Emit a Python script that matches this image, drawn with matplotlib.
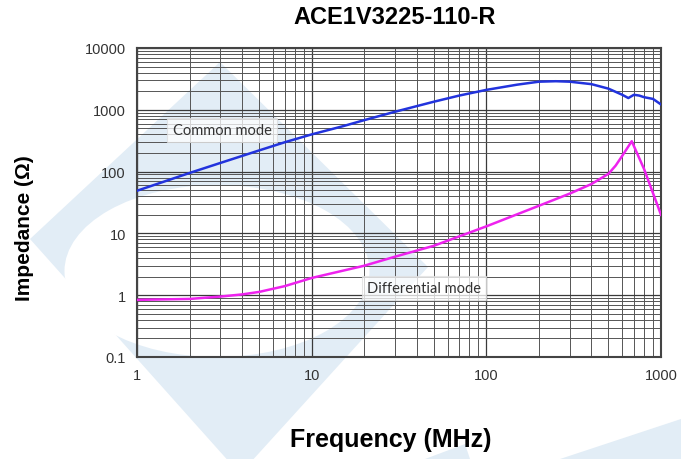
import numpy as np
import matplotlib.pyplot as plt
from matplotlib.patches import Polygon, Ellipse
from matplotlib.ticker import LogLocator, FixedLocator, FixedFormatter, NullFormatter

# Data
freq_cm = [1, 2, 3, 5, 7, 10, 15, 20, 30, 50, 70, 100, 150, 200, 250, 300,
           400, 500, 600, 650, 700, 750, 800, 900, 1000]
z_cm = [49, 95, 138, 220, 298, 400, 540, 680, 930, 1350, 1700, 2100, 2550,
        2850, 2900, 2850, 2600, 2200, 1750, 1550, 1750, 1700, 1600, 1500, 1220]

freq_dm = [1, 2, 3, 4, 5, 7, 10, 20, 30, 50, 100, 200, 300, 400, 500, 550,
           600, 650, 680, 800, 1000]
z_dm = [0.84, 0.87, 0.95, 1.03, 1.13, 1.4, 1.9, 3.0, 4.2, 6.3, 13, 28, 44,
        63, 92, 125, 180, 255, 310, 110, 20]

y_ticks = [0.1, 1, 10, 100, 1000, 10000]
y_labels = ["0.1", "1", "10", "100", "1000", "10000"]
x_ticks = [1, 10, 100, 1000]
x_labels = ["1", "10", "100", "1000"]

W, H = 681, 460
fig = plt.figure(figsize=(W / 100, H / 100), dpi=100)

# watermark shapes on a full-figure background axes (pixel coordinates)
bg = fig.add_axes([0, 0, 1, 1], zorder=-1)
bg.set_xlim(0, W)
bg.set_ylim(H, 0)
bg.axis("off")
wm = "#e2edf6"
bg.add_patch(Polygon([(220, 63), (428, 268), (240, 475), (30, 240)],
                     facecolor=wm, edgecolor="none"))
bg.add_patch(Ellipse((217, 272), 305, 172, facecolor="white",
                     edgecolor="none"))
bg.add_patch(Polygon([(560, 460), (681, 420), (681, 460)], facecolor=wm,
                     edgecolor="none"))
bg.add_patch(Polygon([(425, 460), (465, 445), (470, 460)], facecolor=wm,
                     edgecolor="none"))

ax = fig.add_axes([137 / W, 1 - 358 / H, (661 - 137) / W, (358 - 49) / H])
ax.patch.set_alpha(0)
ax.set_xscale("log")
ax.set_yscale("log")
ax.set_xlim(1, 1000)
ax.set_ylim(0.1, 10000)

ax.xaxis.set_major_locator(FixedLocator(x_ticks))
ax.xaxis.set_major_formatter(FixedFormatter(x_labels))
ax.yaxis.set_major_locator(FixedLocator(y_ticks))
ax.yaxis.set_major_formatter(FixedFormatter(y_labels))
ax.xaxis.set_minor_locator(LogLocator(base=10, subs=np.arange(2, 10)))
ax.yaxis.set_minor_locator(LogLocator(base=10, subs=np.arange(2, 10)))
ax.xaxis.set_minor_formatter(NullFormatter())
ax.yaxis.set_minor_formatter(NullFormatter())

ax.grid(True, which="major", color="#3a3a3a", linewidth=0.9)
ax.grid(True, which="minor", color="#555555", linewidth=0.7)
ax.tick_params(which="both", length=0, colors="#333333", pad=8)
for lab in ax.get_xticklabels() + ax.get_yticklabels():
    lab.set_family(["Liberation Sans", "DejaVu Sans"])
    lab.set_fontsize(10.5)
for s in ax.spines.values():
    s.set_color("#444444")
    s.set_linewidth(1.5)

ax.plot(freq_cm, z_cm, color="#2233dd", linewidth=1.8, zorder=3)
ax.plot(freq_dm, z_dm, color="#ee22ee", linewidth=1.8, zorder=3)

box = dict(boxstyle="square,pad=0.35", facecolor="white", alpha=0.75,
           edgecolor="#dddddd", linewidth=0.8)
fig.text(222 / W, 1 - 131 / H, "Common mode", ha="center", va="center",
         fontsize=10.5, color="#333333", family=["Lato", "DejaVu Sans"],
         bbox=box, zorder=5)
fig.text(424 / W, 1 - 289 / H, "Differential mode", ha="center", va="center",
         fontsize=10.5, color="#333333", family=["Lato", "DejaVu Sans"],
         bbox=box, zorder=5)

fig.text(395 / W, 1 - 18 / H, "ACE1V3225-110-R", ha="center", va="center",
         fontsize=17, fontweight="bold",
         family=["Liberation Sans", "DejaVu Sans"])
fig.text(391 / W, 1 - 440 / H, "Frequency (MHz)", ha="center", va="center",
         fontsize=18, fontweight="bold",
         family=["Liberation Sans", "DejaVu Sans"])
fig.text(25 / W, 1 - 228 / H, "Impedance (\u03a9)", ha="center", va="center",
         rotation=90, fontsize=15, fontweight="bold",
         family=["Liberation Sans", "DejaVu Sans"])

fig.savefig("out.png", dpi=100)
